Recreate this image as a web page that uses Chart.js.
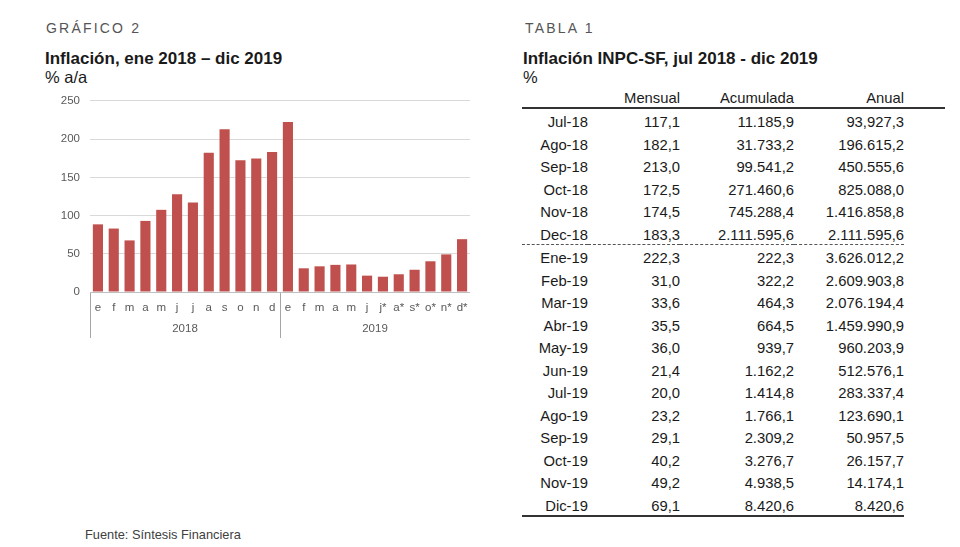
<!DOCTYPE html>
<html>
<head>
<meta charset="utf-8">
<script src="https://cdn.jsdelivr.net/npm/chart.js@4.4.0/dist/chart.umd.min.js"></script>
<style>
body { margin: 0; width: 960px; height: 547px; background: #fff; position: relative; overflow: hidden;
  font-family: "Liberation Sans", Arial, sans-serif; color: #1a1a1a; }
.kicker { position: absolute; font-size: 14px; letter-spacing: 2.2px; color: #555; }
.title { position: absolute; font-size: 17px; font-weight: bold; color: #1a1a1a; }
.unit { position: absolute; font-size: 16.5px; color: #1a1a1a; }
#wrap { position: absolute; left: 40px; top: 84px; width: 430px; height: 254px; }
#src { position: absolute; left: 85px; top: 527px; font-size: 12.8px; color: #404040; }
#tabla { position: absolute; left: 522px; top: 88px; border-collapse: collapse; font-size: 14.8px; }
#tabla td { padding: 4px 0 0 0; height: 18.5px; text-align: right; white-space: nowrap; }
#tabla tr.head td { padding: 0; height: 19px; border-bottom: 2px solid #333; }
#tabla tr.cut td.c { border-bottom: 1px dashed #555; }
#tabla tr.last td.c { border-bottom: 2px solid #333; }
</style>
</head>
<body>
<div class="kicker" style="left:46px;top:20px">GRÁFICO 2</div>
<div class="title" style="left:45px;top:49px">Inflación, ene 2018 – dic 2019</div>
<div class="unit" style="left:45px;top:68px">% a/a</div>
<div id="wrap"><canvas id="myChart"></canvas></div>
<div id="src">Fuente: Síntesis Financiera</div>

<div class="kicker" style="left:525px;top:20px">TABLA 1</div>
<div class="title" style="left:523px;top:49px">Inflación INPC-SF, jul 2018 - dic 2019</div>
<div class="unit" style="left:523px;top:68px">%</div>
<table id="tabla"></table>

<script>
/* Datos del grafico */
const meses = ['e','f','m','a','m','j','j','a','s','o','n','d',
               'e','f','m','a','m','j','j*','a*','s*','o*','n*','d*'];
const anios = ['2018', '2019'];
const infl2018 = [88.5, 83.0, 67.5, 93.0, 107.5, 128.0, 117.1, 182.1, 213.0, 172.5, 174.5, 183.3];
const infl2019 = [222.3, 31.0, 33.6, 35.5, 36.0, 21.4, 20.0, 23.2, 29.1, 40.2, 49.2, 69.1];
const yTicks = [0, 50, 100, 150, 200, 250];

/* Datos de la tabla */
const filas = ['Jul-18','Ago-18','Sep-18','Oct-18','Nov-18','Dec-18',
               'Ene-19','Feb-19','Mar-19','Abr-19','May-19','Jun-19',
               'Jul-19','Ago-19','Sep-19','Oct-19','Nov-19','Dic-19'];
const mensual = ['117,1','182,1','213,0','172,5','174,5','183,3',
                 '222,3','31,0','33,6','35,5','36,0','21,4',
                 '20,0','23,2','29,1','40,2','49,2','69,1'];
const acumulada = ['11.185,9','31.733,2','99.541,2','271.460,6','745.288,4','2.111.595,6',
                   '222,3','322,2','464,3','664,5','939,7','1.162,2',
                   '1.414,8','1.766,1','2.309,2','3.276,7','4.938,5','8.420,6'];
const anual = ['93,927,3','196.615,2','450.555,6','825.088,0','1.416.858,8','2.111.595,6',
               '3.626.012,2','2.609.903,8','2.076.194,4','1.459.990,9','960.203,9','512.576,1',
               '283.337,4','123.690,1','50.957,5','26.157,7','14.174,1','8.420,6'];

/* Tabla */
const tabla = document.getElementById('tabla');
const anchos = [66, 92, 114, 110, 41];
let html = '<colgroup>';
anchos.forEach(function(w) { html += '<col style="width:' + w + 'px">'; });
html += '</colgroup>';
html += '<tr class="head"><td></td><td>Mensual</td><td>Acumulada</td><td>Anual</td><td></td></tr>';
filas.forEach(function(f, i) {
  let cls = '';
  if (f === 'Dec-18') cls = 'cut';
  if (i === filas.length - 1) cls = 'last';
  html += '<tr class="' + cls + '"><td class="c">' + f + '</td><td class="c">' + mensual[i] +
          '</td><td class="c">' + acumulada[i] + '</td><td class="c">' + anual[i] + '</td><td></td></tr>';
});
tabla.innerHTML = html;

/* Grafico */
const gris = '#595959';
const ctx = document.getElementById('myChart').getContext('2d');
const chart = new Chart(ctx, {
  type: 'bar',
  data: {
    labels: meses,
    datasets: [{
      data: infl2018.concat(infl2019),
      backgroundColor: '#c0504d',
      barPercentage: 0.64,
      categoryPercentage: 1
    }]
  },
  options: {
    responsive: true,
    maintainAspectRatio: false,
    animation: false,
    layout: { padding: { top: 8 } },
    plugins: { legend: { display: false }, tooltip: { enabled: false } },
    scales: {
      y: {
        min: 0, max: 250,
        afterBuildTicks: function(s) { s.ticks = yTicks.map(function(v) { return { value: v }; }); },
        afterFit: function(s) { s.width = 50; },
        border: { display: false },
        grid: { color: '#d9d9d9', drawTicks: false },
        ticks: { color: gris, padding: 10, font: { family: 'Liberation Sans', size: 11.5 } }
      },
      x: {
        position: 'bottom',
        offset: true,
        afterFit: function(s) { s.height = 26; },
        border: { display: true, color: '#bfbfbf' },
        grid: {
          offset: true,
          drawOnChartArea: false,
          tickLength: 26,
          color: function(c) {
            return (c.index === undefined || c.index % 12 === 0) ? '#a6a6a6' : 'rgba(0,0,0,0)';
          }
        },
        ticks: { color: gris, padding: -17, maxRotation: 0, autoSkip: false,
                 font: { family: 'Liberation Sans', size: 11.5 } }
      },
      x2: {
        type: 'category',
        position: 'bottom',
        labels: anios,
        offset: true,
        afterFit: function(s) { s.height = 20; },
        border: { display: false },
        grid: { offset: true, drawOnChartArea: false, tickLength: 20, color: '#a6a6a6' },
        ticks: { color: gris, padding: -16, maxRotation: 0,
                 font: { family: 'Liberation Sans', size: 11.5 } }
      }
    }
  }
});
</script>
</body>
</html>
